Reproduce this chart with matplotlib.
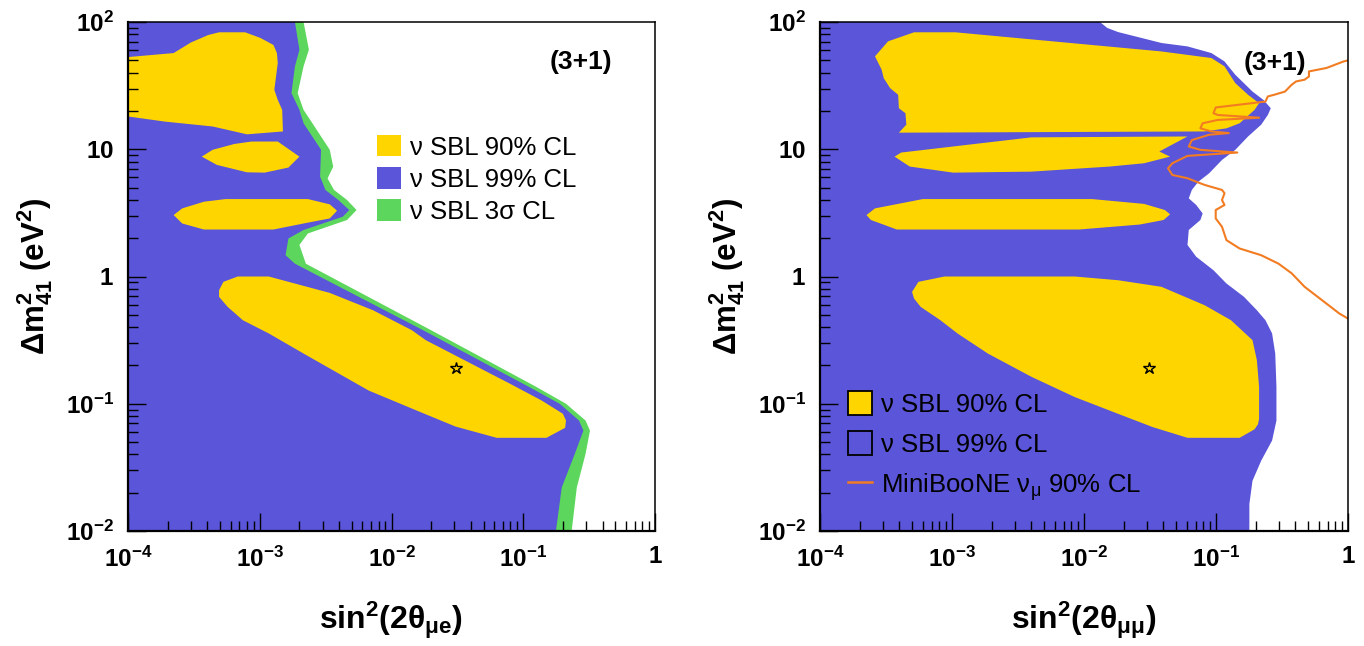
import matplotlib
matplotlib.use("Agg")
import matplotlib.pyplot as plt
from matplotlib.patches import Patch
from matplotlib.lines import Line2D

plt.rcParams['font.family'] = ['Liberation Sans', 'DejaVu Sans']
plt.rcParams['mathtext.fontset'] = 'custom'
plt.rcParams['mathtext.rm'] = 'Liberation Sans'
plt.rcParams['mathtext.bf'] = 'Liberation Sans:bold'
plt.rcParams['mathtext.it'] = 'Liberation Sans:italic'
plt.rcParams['mathtext.sf'] = 'Liberation Sans'

# ---------------- data (x = sin^2(2theta), y = dm^2_41 in eV^2) ----------------
X_MIN, X_MAX = 1e-4, 1.0
Y_MIN, Y_MAX = 1e-2, 1e2

x_ticks = [1e-4, 1e-3, 1e-2, 1e-1, 1.0]
x_tick_labels = [r'$\mathbf{10^{-4}}$', r'$\mathbf{10^{-3}}$', r'$\mathbf{10^{-2}}$',
                 r'$\mathbf{10^{-1}}$', r'$\mathbf{1}$']
y_ticks = [1e-2, 1e-1, 1.0, 10.0, 100.0]
y_tick_labels = [r'$\mathbf{10^{-2}}$', r'$\mathbf{10^{-1}}$', r'$\mathbf{1}$',
                 r'$\mathbf{10}$', r'$\mathbf{10^{2}}$']

# ---- left panel (mu-e) ----
# 99% CL right boundary (top -> bottom)
mue_99_x = [1.85e-3, 2.0e-3, 1.85e-3, 1.74e-3, 2.0e-3, 2.15e-3, 2.92e-3, 2.87e-3, 3.15e-3,
            3.95e-3, 4.78e-3, 4.27e-3, 2.15e-3, 1.65e-3, 1.57e-3, 1.85e-3, 1.74e-2,
            0.110, 0.189, 0.265, 0.286, 0.246, 0.196, 0.177]
mue_99_y = [100, 60.5, 44.8, 27.6, 20.4, 16.0, 9.9, 6.1, 4.79,
            3.99, 3.33, 2.95, 2.32, 1.99, 1.47, 1.26, 0.378,
            0.136, 0.100, 0.0738, 0.0615, 0.0403, 0.022, 0.010]
# 3 sigma CL right boundary (top -> bottom)
mue_3s_x = [2.15e-3, 2.36e-3, 2.15e-3, 1.94e-3, 2.15e-3, 2.51e-3, 3.40e-3, 3.61e-3, 3.27e-3,
            3.66e-3, 4.60e-3, 5.43e-3, 4.60e-3, 2.32e-3, 2.0e-3, 2.24e-3, 2.0e-2,
            0.125, 0.211, 0.297, 0.321, 0.297, 0.255, 0.233]
mue_3s_y = [100, 60.5, 44.8, 27.6, 20.4, 16.0, 9.9, 7.3, 5.9,
            4.79, 3.99, 3.33, 2.78, 2.18, 1.77, 1.26, 0.378,
            0.136, 0.100, 0.0738, 0.0615, 0.0403, 0.022, 0.010]
# 90% CL islands
mue_90a_x = [1e-4, 2.22e-4, 3.0e-4, 4.06e-4, 4.91e-4, 7.74e-4, 1.01e-3, 1.27e-3, 1.35e-3,
             1.37e-3, 1.29e-3, 1.37e-3, 1.48e-3, 1.50e-3, 8.0e-4, 4.39e-4, 1.9e-4, 1e-4]
mue_90a_y = [53, 57, 69, 79, 83, 83, 75, 66, 57,
             47.5, 29.3, 24.4, 20.4, 13.8, 13.1, 15.1, 16.5, 18.1]
mue_90b_x = [3.63e-4, 4.39e-4, 6.41e-4, 8.67e-4, 1.37e-3, 2.0e-3, 1.65e-3, 1.09e-3, 8.0e-4, 4.73e-4]
mue_90b_y = [8.75, 9.9, 11.0, 11.5, 11.5, 8.75, 7.18, 6.55, 6.59, 7.53]
mue_90c_x = [2.22e-4, 2.58e-4, 3.77e-4, 5.5e-4, 2.32e-3, 3.40e-3, 3.86e-3, 3.40e-3, 2.32e-3,
             1.27e-3, 3.77e-4, 2.58e-4]
mue_90c_y = [3.04, 3.43, 3.87, 4.06, 4.06, 3.69, 3.29, 2.86, 2.65, 2.34, 2.34, 2.61]
mue_90d_x = [4.91e-4, 5.3e-4, 6.81e-4, 1.17e-3, 3.40e-3, 7.24e-3, 1.43e-2, 1.82e-2, 3.8e-2,
             7.9e-2, 0.138, 0.200, 0.211, 0.208, 0.150, 6.28e-2, 3.06e-2, 1.55e-2,
             6.71e-3, 2.15e-3, 1.17e-3, 7.45e-4, 5.71e-4, 4.91e-4]
mue_90d_y = [0.78, 0.908, 1.0, 1.0, 0.743, 0.543, 0.378, 0.316, 0.213,
             0.144, 0.106, 0.0834, 0.0738, 0.0647, 0.054, 0.054, 0.0662, 0.0885,
             0.127, 0.248, 0.357, 0.453, 0.577, 0.692]

# ---- right panel (mu-mu) ----
mumu_99_x = [1.32e-2, 1.50e-2, 1.81e-2, 3.86e-2, 6.08e-2, 9.23e-2, 0.116, 0.140, 0.189,
             0.229, 0.260, 0.247, 0.220, 0.175, 0.140, 0.111, 8.87e-2, 7.35e-2, 6.56e-2,
             6.22e-2, 7.08e-2, 7.92e-2, 7.62e-2, 6.22e-2, 6.08e-2, 7.08e-2, 9.57e-2, 0.120,
             0.163, 0.204, 0.237, 0.266, 0.281, 0.287, 0.287, 0.266, 0.220, 0.189, 0.179, 0.179]
mumu_99_y = [100, 89.8, 83.4, 68.4, 64.3, 57.0, 49.0, 38.5, 28.4,
             24.4, 21.0, 18.6, 15.6, 12.6, 9.89, 8.24, 6.47, 5.56, 4.79,
             4.11, 3.65, 3.13, 2.78, 2.32, 1.77, 1.43, 1.12, 0.881,
             0.692, 0.543, 0.453, 0.357, 0.248, 0.136, 0.0738, 0.0514, 0.0357, 0.0248, 0.0163, 0.010]
mumu_90a_x = [2.61e-4, 3.28e-4, 5.16e-4, 1.06e-3, 3.86e-2, 9.23e-2, 0.116, 0.140, 0.175,
              0.212, 0.196, 0.151, 0.120, 8.22e-2, 3.96e-4, 4.51e-4, 4.44e-4, 3.96e-4,
              3.91e-4, 3.40e-4, 3.04e-4, 2.93e-4]
mumu_90a_y = [53.7, 70.5, 83.0, 83.0, 58.7, 52.1, 44.8, 33.1, 26.8,
              23.0, 20.4, 16.0, 14.6, 13.8, 13.5, 15.6, 19.2, 21.0,
              26.8, 30.2, 36.2, 42.2]
mumu_90b_x = [3.67e-4, 4.12e-4, 3.99e-3, 6.08e-2, 3.72e-2, 4.49e-2, 2.85e-2, 1.56e-2,
              3.99e-3, 1.02e-3, 4.79e-4]
mumu_90b_y = [8.75, 9.42, 12.4, 12.6, 9.6, 8.75, 7.76, 7.31, 6.67, 6.55, 7.31]
mumu_90c_x = [2.25e-4, 2.61e-4, 6.01e-4, 1.15e-2, 2.85e-2, 4.10e-2, 4.49e-2, 4.01e-2,
              2.64e-2, 9.16e-3, 3.82e-4, 2.43e-4]
mumu_90c_y = [3.04, 3.43, 4.06, 4.06, 3.72, 3.33, 3.08, 2.78, 2.56, 2.34, 2.34, 2.78]
mumu_90d_x = [4.98e-4, 5.57e-4, 8.77e-4, 8.49e-3, 1.81e-2, 3.86e-2, 8.22e-2, 0.130, 0.189,
              0.204, 0.212, 0.212, 0.208, 0.196, 0.151, 6.08e-2, 3.32e-2, 1.81e-2, 8.49e-3,
              3.99e-3, 1.87e-3, 1.10e-3, 8.13e-4, 5.79e-4, 5.16e-4]
mumu_90d_y = [0.757, 0.908, 1.0, 1.0, 0.935, 0.83, 0.594, 0.453, 0.316,
              0.220, 0.136, 0.0760, 0.0690, 0.0630, 0.054, 0.054, 0.0655, 0.0834, 0.113,
              0.163, 0.248, 0.357, 0.455, 0.577, 0.671]
# MiniBooNE nu_mu 90% CL curve
mb_x = [1.0, 0.927, 0.740, 0.686, 0.506, 0.506, 0.469, 0.404, 0.374, 0.333, 0.276, 0.247,
        0.237, 9.95e-2, 9.57e-2, 0.103, 0.212, 0.103, 7.92e-2, 7.62e-2, 9.23e-2, 0.125,
        8.87e-2, 6.56e-2, 6.22e-2, 7.62e-2, 0.145, 6.08e-2, 4.67e-2, 4.33e-2, 4.67e-2,
        6.08e-2, 7.08e-2, 8.22e-2, 0.111, 0.116, 0.111, 0.116, 9.95e-2, 9.95e-2, 0.111,
        0.120, 0.151, 0.220, 0.298, 0.374, 0.469, 0.589, 0.740, 0.859, 1.0]
mb_y = [49.9, 49.0, 44.8, 43.5, 40.9, 37.3, 35.2, 34.1, 32.1, 28.4, 26.8, 26.0,
        23.7, 21.3, 19.2, 18.6, 17.7, 17.0, 16.0, 14.6, 13.8, 13.4,
        13.0, 11.8, 10.5, 9.89, 9.42, 8.87, 7.76, 7.08, 6.28,
        5.92, 5.56, 5.24, 4.79, 4.51, 3.99, 3.65, 3.33, 2.86, 2.46,
        1.93, 1.66, 1.47, 1.26, 1.06, 0.83, 0.692, 0.577, 0.512, 0.467]

best_fit_x = [0.031]
best_fit_y = [0.19]

# ---------------- style ----------------
YELLOW = '#FFD500'
BLUE = '#5A55D9'
GREEN = '#5CD65C'
ORANGE = '#F27C22'

fig = plt.figure(figsize=(13.64, 6.46), dpi=100)
axL = fig.add_axes([128 / 1364, 115 / 646, 527 / 1364, 509 / 646])
axR = fig.add_axes([820 / 1364, 115 / 646, 528 / 1364, 509 / 646])


def region_left_of(xb, yb):
    """Close a boundary curve against the left edge of the plot."""
    return [X_MIN] + list(xb) + [X_MIN], [yb[0]] + list(yb) + [yb[-1]]


def style(ax, xlabel):
    ax.set_xscale('log')
    ax.set_yscale('log')
    ax.set_xlim(X_MIN, X_MAX)
    ax.set_ylim(Y_MIN, Y_MAX)
    ax.set_xticks(x_ticks, x_tick_labels)
    ax.set_yticks(y_ticks, y_tick_labels)
    ax.tick_params(which='both', direction='in', top=False, right=False, width=1.0,
                   labelsize=17.5, colors='black')
    ax.tick_params(which='major', length=13)
    ax.tick_params(which='minor', length=7)
    ax.tick_params(axis='x', which='major', pad=11)
    ax.tick_params(axis='y', which='major', pad=10)
    for s in ['left', 'bottom']:
        ax.spines[s].set_linewidth(1.6)
    for s in ['top', 'right']:
        ax.spines[s].set_linewidth(1.1)
    ax.set_xlabel(xlabel, fontsize=23, va='center')
    ax.xaxis.set_label_coords(0.5, -89 / 509)
    ax.set_ylabel(r'$\mathbf{\Delta m^{2}_{41}\ (eV^{2})}$', fontsize=22.5, va='center')
    ax.yaxis.set_label_coords(-93 / 527, 0.5)


# ---- left ----
gx, gy = region_left_of(mue_3s_x, mue_3s_y)
axL.fill(gx, gy, color=GREEN, lw=0)
bx, by = region_left_of(mue_99_x, mue_99_y)
axL.fill(bx, by, color=BLUE, lw=0)
for xs, ys in [(mue_90a_x, mue_90a_y), (mue_90b_x, mue_90b_y),
               (mue_90c_x, mue_90c_y), (mue_90d_x, mue_90d_y)]:
    axL.fill(xs, ys, color=YELLOW, lw=0)
axL.plot(best_fit_x, best_fit_y, marker='*', ms=9, mfc='none', mec='black', mew=1.0, ls='none')
style(axL, r'$\mathbf{sin^{2}(2\theta_{\mu e})}$')
axL.text(0.86, 0.921, '(3+1)', transform=axL.transAxes, fontsize=19,
         fontweight='bold', ha='center', va='center')

handlesL = [Patch(facecolor=YELLOW, edgecolor='none'),
            Patch(facecolor=BLUE, edgecolor='none'),
            Patch(facecolor=GREEN, edgecolor='none')]
labelsL = ['ν SBL 90% CL', 'ν SBL 99% CL', 'ν SBL 3σ CL']
axL.legend(handlesL, labelsL, loc='upper left', bbox_to_anchor=(0.4734, 0.778),
           frameon=False, fontsize=18.5, handlelength=0.92, handleheight=0.9,
           handletextpad=0.35, labelspacing=0.3, borderpad=0, borderaxespad=0)

# ---- right ----
bx, by = region_left_of(mumu_99_x, mumu_99_y)
axR.fill(bx, by, color=BLUE, lw=0)
for xs, ys in [(mumu_90a_x, mumu_90a_y), (mumu_90b_x, mumu_90b_y),
               (mumu_90c_x, mumu_90c_y), (mumu_90d_x, mumu_90d_y)]:
    axR.fill(xs, ys, color=YELLOW, lw=0)
axR.plot(mb_x, mb_y, color=ORANGE, lw=1.5)
axR.plot(best_fit_x, best_fit_y, marker='*', ms=9, mfc='none', mec='black', mew=1.0, ls='none')
style(axR, r'$\mathbf{sin^{2}(2\theta_{\mu\mu})}$')
axR.text(0.862, 0.919, '(3+1)', transform=axR.transAxes, fontsize=19,
         fontweight='bold', ha='center', va='center')

handlesR = [Patch(facecolor=YELLOW, edgecolor='black', lw=1.3),
            Patch(facecolor=BLUE, edgecolor='black', lw=1.3),
            Line2D([], [], color=ORANGE, lw=1.8)]
labelsR = ['ν SBL 90% CL', 'ν SBL 99% CL', r'MiniBooNE ν$_{\mathrm{μ}}$ 90% CL']
axR.legend(handlesR, labelsR, loc='upper left', bbox_to_anchor=(0.053, 0.275),
           frameon=False, fontsize=18.5, handlelength=0.92, handleheight=1.05,
           handletextpad=0.35, labelspacing=0.56, borderpad=0, borderaxespad=0)

fig.savefig('out.png', dpi=100)
